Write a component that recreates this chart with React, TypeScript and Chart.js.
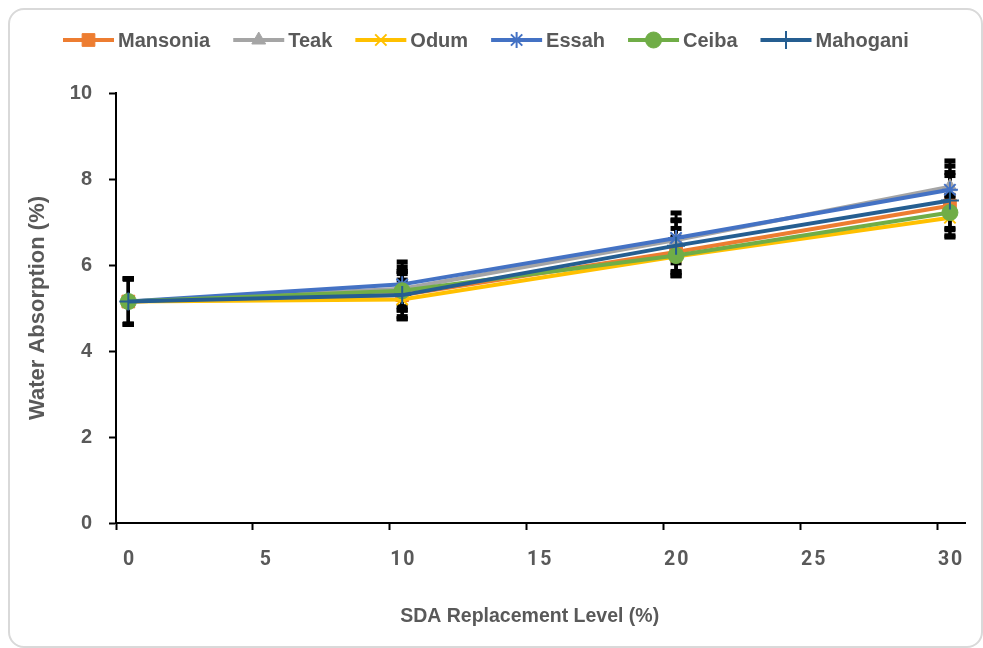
import React, { useEffect, useRef } from 'react';
import { Chart, registerables } from 'chart.js';
import { drawPoint } from 'chart.js/helpers';

Chart.register(...registerables);

// ---- data ----
const LEVELS = [0, 10, 20, 30]; // SDA replacement level (%)
const X_SHIFT = 0.45; // points sit slightly right of the tick marks in the original
const SERIES_NAMES = ['Mansonia', 'Teak', 'Odum', 'Essah', 'Ceiba', 'Mahogani'];
const MANSONIA = [5.15, 5.3, 6.3, 7.38];
const TEAK = [5.15, 5.45, 6.58, 7.82];
const ODUM = [5.15, 5.2, 6.2, 7.1];
const ESSAH = [5.15, 5.55, 6.63, 7.75];
const CEIBA = [5.15, 5.4, 6.22, 7.22];
const MAHOGANI = [5.15, 5.3, 6.45, 7.5];
const MANSONIA_ERR = [0.53, 0.55, 0.55, 0.7];
const TEAK_ERR = [0.53, 0.5, 0.45, 0.6];
const ODUM_ERR = [0.53, 0.45, 0.45, 0.45];
const ESSAH_ERR = [0.53, 0.52, 0.58, 0.55];
const CEIBA_ERR = [0.53, 0.45, 0.4, 0.4];
const MAHOGANI_ERR = [0.53, 0.5, 0.6, 0.65];
const X_TICKS = [0, 5, 10, 15, 20, 25, 30];
const Y_TICKS = [0, 2, 4, 6, 8, 10];

// ---- styles ----
const VALUES = [MANSONIA, TEAK, ODUM, ESSAH, CEIBA, MAHOGANI];
const ERRORS = [MANSONIA_ERR, TEAK_ERR, ODUM_ERR, ESSAH_ERR, CEIBA_ERR, MAHOGANI_ERR];
const COLORS = ['#ED7D31', '#A5A5A5', '#FFC000', '#4472C4', '#70AD47', '#255E91'];
const MARKERS = ['rect', 'triangle', 'crossRot', 'star', 'circle', 'cross'];
const RADII = [9, 8, 8, 8, 8, 9];
const BORDER_W = [1, 1, 2, 2, 1, 2];
const TEXT = '#595959';
const FONT = '"Liberation Sans", Arial, sans-serif';

const errorBarPlugin = {
  id: 'errorBars',
  beforeDatasetsDraw(chart: any) {
    const { ctx, scales } = chart;
    const xs = scales.x;
    const ys = scales.y;
    ctx.save();
    ctx.strokeStyle = '#000';
    ctx.fillStyle = '#000';
    ctx.lineWidth = 3;
    ERRORS.forEach((errs, i) => {
      errs.forEach((e, j) => {
        const v = VALUES[i][j];
        const px = xs.getPixelForValue(LEVELS[j] + X_SHIFT);
        const top = ys.getPixelForValue(v + e);
        const bot = ys.getPixelForValue(v - e);
        ctx.beginPath();
        ctx.moveTo(px, top);
        ctx.lineTo(px, bot);
        ctx.stroke();
        ctx.fillRect(px - 5.5, top - 2.5, 11, 5);
        ctx.fillRect(px - 5.5, bot - 2.5, 11, 5);
      });
    });
    ctx.restore();
  },
};

const legendPlugin = {
  id: 'lineLegend',
  afterDraw(chart: any) {
    const ctx = chart.ctx;
    ctx.save();
    ctx.font = `bold 20px ${FONT}`;
    ctx.textBaseline = 'middle';
    ctx.textAlign = 'left';
    let x = 53;
    const y = 30;
    chart.data.datasets.forEach((ds: any) => {
      ctx.strokeStyle = ds.borderColor;
      ctx.lineWidth = 4;
      ctx.beginPath();
      ctx.moveTo(x, y);
      ctx.lineTo(x + 51, y);
      ctx.stroke();
      ctx.fillStyle = ds.pointBackgroundColor;
      ctx.strokeStyle = ds.pointBorderColor;
      ctx.lineWidth = ds.pointBorderWidth;
      drawPoint(ctx, { pointStyle: ds.pointStyle, radius: ds.pointRadius, rotation: 0, borderWidth: ds.pointBorderWidth } as any, x + 25.5, y);
      ctx.fillStyle = TEXT;
      ctx.fillText(ds.label, x + 55, y + 1);
      x += 55 + ctx.measureText(ds.label).width + 23;
    });
    ctx.restore();
  },
};

export default function App() {
  const ref = useRef<HTMLCanvasElement>(null);
  useEffect(() => {
    if (!ref.current) return;
    const datasets = SERIES_NAMES.map((name, i) => ({
      label: name,
      data: VALUES[i].map((v, j) => ({ x: LEVELS[j] + X_SHIFT, y: v })),
      borderColor: COLORS[i],
      backgroundColor: COLORS[i],
      borderWidth: 4,
      pointStyle: MARKERS[i],
      pointRadius: RADII[i],
      pointBackgroundColor: COLORS[i],
      pointBorderColor: COLORS[i],
      pointBorderWidth: BORDER_W[i],
      tension: 0,
      order: SERIES_NAMES.length - i,
    }));
    const chart = new Chart(ref.current, {
      type: 'line',
      data: { datasets },
      plugins: [errorBarPlugin, legendPlugin],
      options: {
        animation: false,
        responsive: true,
        maintainAspectRatio: false,
        layout: { padding: { left: 0, top: 83, right: 16, bottom: 0 } },
        plugins: { legend: { display: false }, tooltip: { enabled: false } },
        scales: {
          x: {
            type: 'linear',
            min: 0,
            max: 31,
            afterBuildTicks: (scale: any) => {
              scale.ticks = X_TICKS.map((v) => ({ value: v }));
            },
            afterFit: (scale: any) => {
              scale.height = 123;
            },
            ticks: {
              padding: 18,
              labelOffset: 12.5,
              color: TEXT,
              font: { family: 'Roboto, sans-serif', size: 19.5, weight: 'bold', lineHeight: 1.2 },
              callback: (v: any) => String(v).split('').join('\u200A'),
              maxRotation: 0,
            },
            grid: { display: true, drawOnChartArea: false, drawTicks: true, tickLength: 7, tickColor: '#000', tickWidth: 2, color: '#000' },
            border: { display: true, color: '#000', width: 2 },
            title: {
              display: true,
              text: 'SDA Replacement Level (%)' + '\u00A0\u00A0\u00A0\u00A0',
              color: TEXT,
              font: { family: FONT, size: 19.5, weight: 'bold', lineHeight: 1.2 },
              padding: { top: 0, bottom: 18 },
            },
          },
          y: {
            min: 0,
            max: 10,
            afterBuildTicks: (scale: any) => {
              scale.ticks = Y_TICKS.map((v) => ({ value: v }));
            },
            afterFit: (scale: any) => {
              scale.width = 106;
            },
            ticks: {
              padding: 17,
              color: TEXT,
              font: { family: FONT, size: 20, weight: 'bold' },
            },
            grid: { display: true, drawOnChartArea: false, drawTicks: true, tickLength: 7, tickColor: '#000', tickWidth: 2, color: '#000' },
            border: { display: true, color: '#000', width: 2 },
            title: {
              display: true,
              text: 'Water Absorption (%)',
              color: TEXT,
              font: { family: FONT, size: 22, weight: 'bold', lineHeight: 1.2 },
              padding: { top: 15, bottom: 0 },
            },
          },
        },
      } as any,
    });
    return () => chart.destroy();
  }, []);

  return (
    <div
      style={{
        position: 'fixed',
        left: 8,
        top: 8,
        width: 975,
        height: 640,
        boxSizing: 'border-box',
        border: '2px solid #d9d9d9',
        borderRadius: 16,
        background: '#fff',
        overflow: 'hidden',
      }}
    >
      <div style={{ position: 'relative', width: '100%', height: '100%' }}>
        <canvas ref={ref} />
      </div>
    </div>
  );
}
